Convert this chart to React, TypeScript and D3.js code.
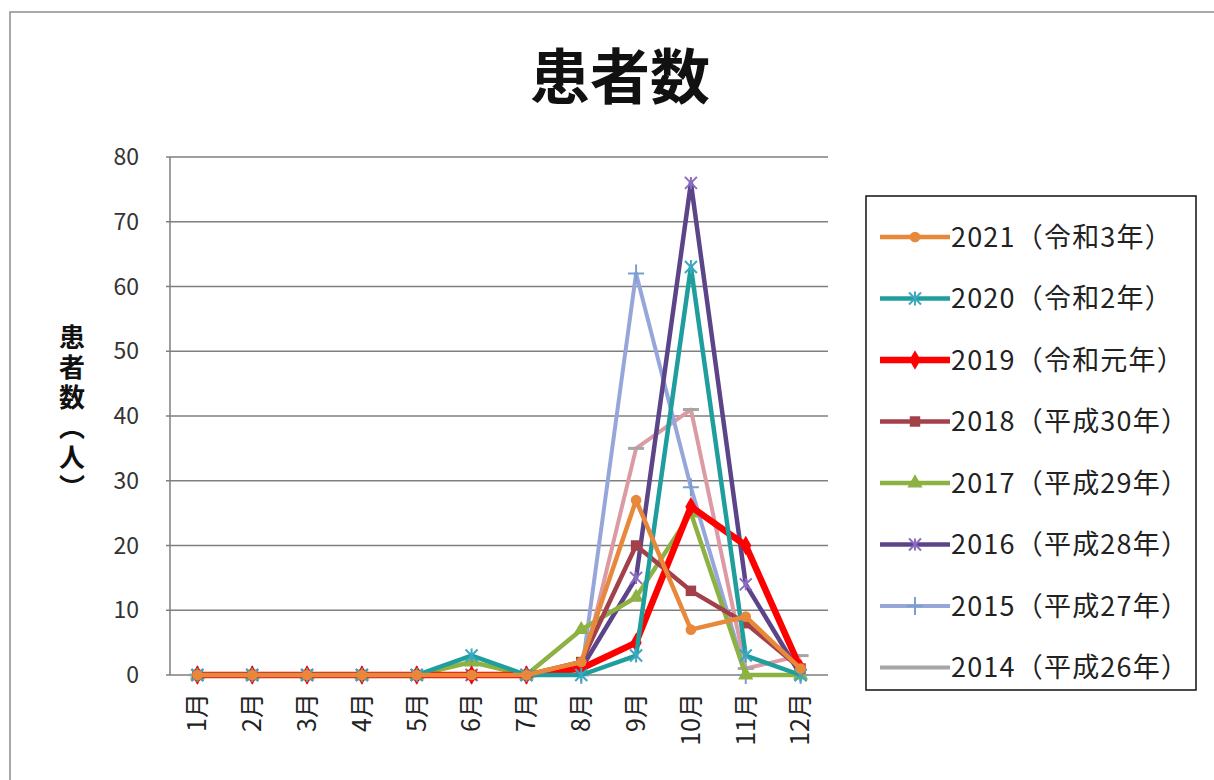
import React from 'react';
import * as d3 from 'd3';

const months = ['1月', '2月', '3月', '4月', '5月', '6月', '7月', '8月', '9月', '10月', '11月', '12月'];
const yTicks = [0, 10, 20, 30, 40, 50, 60, 70, 80];

const seriesNames = ['2021（令和3年）', '2020（令和2年）', '2019（令和元年）', '2018（平成30年）', '2017（平成29年）', '2016（平成28年）', '2015（平成27年）', '2014（平成26年）'];
const s2021 = [0, 0, 0, 0, 0, 0, 0, 2, 27, 7, 9, 1];
const s2020 = [0, 0, 0, 0, 0, 3, 0, 0, 3, 63, 3, 0];
const s2019 = [0, 0, 0, 0, 0, 0, 0, 1, 5, 26, 20, 1];
const s2018 = [0, 0, 0, 0, 0, 0, 0, 2, 20, 13, 8, 1];
const s2017 = [0, 0, 0, 0, 0, 2, 0, 7, 12, 25, 0, 0];
const s2016 = [0, 0, 0, 0, 0, 0, 0, 1, 15, 76, 14, 0];
const s2015 = [0, 0, 0, 0, 0, 0, 0, 0, 62, 29, 0, 0];
const s2014 = [0, 0, 0, 0, 0, 0, 0, 0, 35, 41, 1, 3];
const seriesValues = [s2021, s2020, s2019, s2018, s2017, s2016, s2015, s2014];

const lineColors = ['#e8883a', '#1f9e9e', '#ff0000', '#a3414b', '#8db243', '#5b4488', '#97a6da', '#dc9aa4'];
const legendColors = ['#e8883a', '#1f9e9e', '#ff0000', '#a3414b', '#8db243', '#5b4488', '#97a6da', '#a6a6a6'];
const markerColors = ['#e8883a', '#3aa8c0', '#ff0000', '#a3414b', '#8db243', '#8a6cc0', '#7aa0d0', '#a6a6a6'];
const lineWidths = [4.5, 4.5, 6.5, 4.5, 4.5, 4.5, 4, 4];
const markerKinds = ['circle', 'asterisk', 'diamond', 'square', 'triangle', 'xstar', 'plus', 'dash'];

const FONT = '"Noto Sans CJK JP", "Noto Sans", sans-serif';

function Marker({ kind, x, y, color }: { kind: string; x: number; y: number; color: string }) {
  const r = 6;
  if (kind === 'circle') return <path d={d3.symbol(d3.symbolCircle, 90)()!} transform={`translate(${x},${y})`} fill={color} />;
  if (kind === 'diamond') return <path d={d3.symbol(d3.symbolDiamond, 110)()!} transform={`translate(${x},${y})`} fill={color} />;
  if (kind === 'square') return <path d={d3.symbol(d3.symbolSquare, 110)()!} transform={`translate(${x},${y})`} fill={color} />;
  if (kind === 'triangle') return <path d={d3.symbol(d3.symbolTriangle, 100)()!} transform={`translate(${x},${y})`} fill={color} />;
  if (kind === 'plus') return <path d={`M${x - r - 2},${y}H${x + r + 2}M${x},${y - r - 3}V${y + r + 3}`} stroke={color} strokeWidth={2} />;
  if (kind === 'dash') return <path d={`M${x - r - 2},${y}H${x + r + 2}`} stroke={color} strokeWidth={3} />;
  if (kind === 'asterisk')
    return <path d={`M${x - r},${y - r}L${x + r},${y + r}M${x - r},${y + r}L${x + r},${y - r}M${x},${y - r - 1}V${y + r + 1}`} stroke={color} strokeWidth={2} />;
  return <path d={`M${x - r},${y - r}L${x + r},${y + r}M${x - r},${y + r}L${x + r},${y - r}M${x},${y - r}V${y + r}`} stroke={color} strokeWidth={2} />;
}

export default function App() {
  const W = 1214;
  const H = 780;
  const plotL = 170;
  const plotR = 828;
  const plotT = 157;
  const plotB = 675;

  const xBand = d3.scaleBand<string>().domain(months).range([plotL, plotR]).padding(0);
  const xc = (m: string) => (xBand(m) as number) + xBand.bandwidth() / 2;
  const y = d3.scaleLinear().domain([0, 80]).range([plotB, plotT]);

  const line = d3
    .line<number>()
    .x((_, i) => xc(months[i]))
    .y((d) => y(d));

  const order = d3.range(seriesValues.length).reverse();

  const legendX = 866;
  const legendY = 196;
  const legendW = 330;
  const legendH = 494;
  const legendStep = 61.5;
  const legendFirst = 237;

  return (
    <svg width={W} height={H} style={{ position: 'absolute', left: 0, top: 0, background: '#fff' }} fontFamily={FONT}>
      <rect x={0} y={0} width={W} height={H} fill="#fff" />
      <rect x={10} y={12} width={W} height={H} fill="none" stroke="#8c8c8c" strokeWidth={1.5} />

      <text x={620} y={99} textAnchor="middle" fontSize={60} fontWeight={700} fill="#111">
        患者数
      </text>

      {yTicks.map((t) => (
        <line key={t} x1={plotL - 4} x2={plotR} y1={y(t)} y2={y(t)} stroke="#7f7f7f" strokeWidth={1.5} />
      ))}
      <line x1={plotL} x2={plotL} y1={plotT} y2={plotB} stroke="#7f7f7f" strokeWidth={1.5} />

      {yTicks.map((t) => (
        <text key={t} x={139} y={y(t)} dy="0.35em" textAnchor="end" fontSize={23} fill="#333">
          {t}
        </text>
      ))}

      <text
        x={72}
        y={324}
        style={{ writingMode: 'vertical-rl' }}
        fontSize={26}
        fontWeight={700}
        letterSpacing={4}
        fill="#111"
      >
        患者数（人）
      </text>

      {months.map((m) => (
        <text
          key={m}
          transform={`translate(${xc(m)},${plotB + 18}) rotate(-90)`}
          textAnchor="end"
          dy="0.35em"
          fontSize={25}
          fill="#222"
        >
          {m}
        </text>
      ))}

      {order.map((si) => (
        <g key={si}>
          <path d={line(seriesValues[si])!} fill="none" stroke={lineColors[si]} strokeWidth={lineWidths[si]} strokeLinejoin="round" />
          {seriesValues[si].map((v, i) => (
            <Marker key={i} kind={markerKinds[si]} x={xc(months[i])} y={y(v)} color={markerColors[si]} />
          ))}
        </g>
      ))}

      <rect x={legendX} y={legendY} width={legendW} height={legendH} fill="#fff" stroke="#111" strokeWidth={1.5} />
      {seriesNames.map((name, i) => {
        const ly = legendFirst + i * legendStep;
        return (
          <g key={name}>
            <line x1={880} x2={950} y1={ly} y2={ly} stroke={legendColors[i]} strokeWidth={lineWidths[i]} />
            <Marker kind={markerKinds[i]} x={915} y={ly} color={i === 7 ? legendColors[i] : markerColors[i]} />
            <text x={951} y={ly} dy="0.36em" fontSize={27} letterSpacing={1.2} fill="#222">
              {name}
            </text>
          </g>
        );
      })}
    </svg>
  );
}
